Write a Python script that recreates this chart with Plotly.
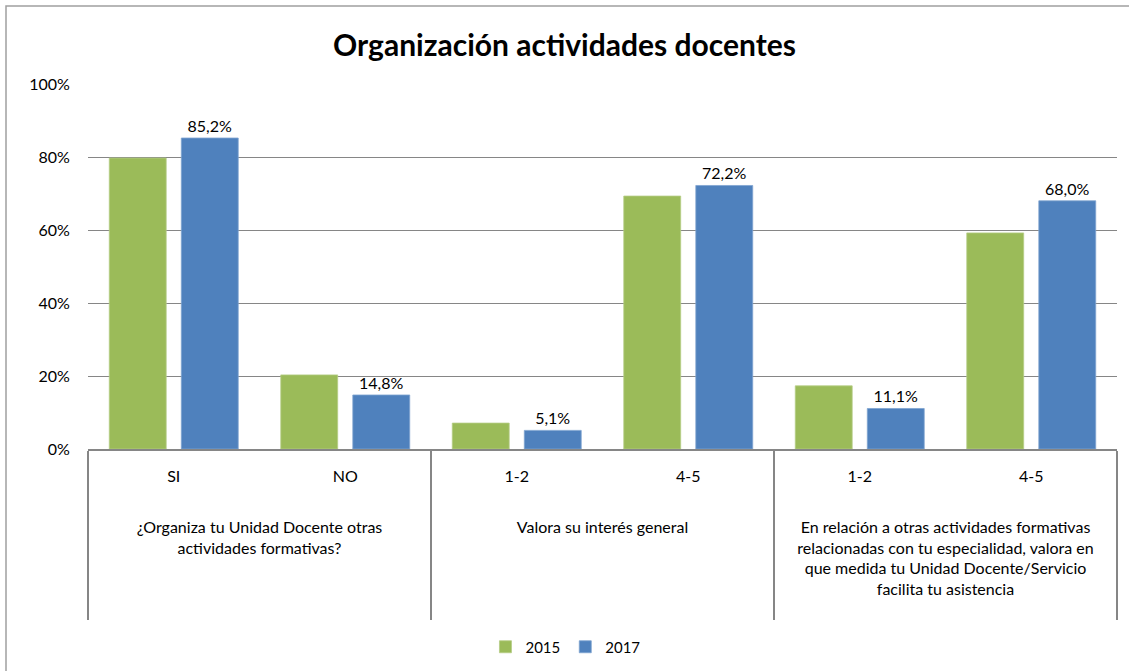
import plotly.graph_objects as go

groups = [
    "¿Organiza tu Unidad Docente otras<br>actividades formativas?",
    "¿Organiza tu Unidad Docente otras<br>actividades formativas?",
    "Valora su interés general",
    "Valora su interés general",
    "En relación a otras actividades formativas<br>relacionadas con tu especialidad, valora en<br>que medida tu Unidad Docente/Servicio<br>facilita tu asistencia",
    "En relación a otras actividades formativas<br>relacionadas con tu especialidad, valora en<br>que medida tu Unidad Docente/Servicio<br>facilita tu asistencia",
]
answers = ["SI", "NO", "1-2", "4-5", "1-2", "4-5"]
values_2015 = [0.797, 0.203, 0.071, 0.693, 0.173, 0.592]
values_2017 = [0.852, 0.148, 0.051, 0.722, 0.111, 0.680]

FONT = "Lato"
GREEN = "#9BBB59"
BLUE = "#4F81BD"
GRID = "#868686"

# blank lines open the gap between the answer labels and the question labels,
# and lengthen the group dividers
answer_labels = [a + "<br>&nbsp;<br>&nbsp;" for a in answers]
group_labels = [g + "<br>&nbsp;" for g in groups]

fig = go.Figure()
fig.add_trace(go.Bar(
    name="2015", x=[group_labels, answer_labels], y=values_2015,
    marker=dict(color=GREEN, line=dict(color="#B5CD85", width=0.8)),
))
fig.add_trace(go.Bar(
    name="2017", x=[group_labels, answer_labels], y=values_2017,
    marker=dict(color=BLUE, line=dict(color="#7FA3D1", width=0.8)),
    texttemplate="%{y:.1%}", textposition="outside", cliponaxis=False,
    textfont=dict(family=FONT, size=16, color="#000000"),
))

W, H = 1129, 671
L, R, T, B = 88, 1117, 84, 449


def px2x(px):
    return (px - L) / (R - L)


def py2y(py):
    return (B - py) / (B - T)


fig.update_layout(
    width=W, height=H,
    margin=dict(l=L, r=W - R, t=T, b=H - B),
    paper_bgcolor="white", plot_bgcolor="white",
    separators=",.",
    barmode="group", bargap=0.16, bargroupgap=0.21,
    font=dict(family=FONT, size=16, color="#000000"),
    title=dict(
        text="<b>Organización actividades docentes</b>",
        x=0.5, xref="container", xanchor="center",
        y=1 - 45 / H, yref="container", yanchor="middle",
        font=dict(family=FONT, size=30, color="#000000"),
    ),
    showlegend=True,
    legend=dict(
        orientation="h", x=0.464, xanchor="center",
        yref="container", y=1 - 647 / H, yanchor="middle",
        font=dict(family=FONT, size=15), itemwidth=30,
        traceorder="normal",
    ),
    xaxis=dict(
        type="multicategory", automargin=False,
        showline=True, linecolor=GRID, linewidth=2,
        showdividers=True, dividercolor=GRID, dividerwidth=1.5,
        ticks="", ticklabelstandoff=12,
        tickfont=dict(family=FONT, size=16, color="#000000"),
        showgrid=False,
    ),
    yaxis=dict(
        range=[0, 1], dtick=0.2, tickformat=".0%", automargin=False,
        showgrid=True, gridcolor=GRID, gridwidth=1,
        zeroline=False, showline=False,
        ticks="outside", ticklen=14, tickcolor="rgba(0,0,0,0)",
        tickfont=dict(family=FONT, size=16, color="#000000"),
    ),
    shapes=[
        dict(type="rect", xref="paper", yref="paper",
             x0=px2x(6), x1=px2x(1140), y0=py2y(690), y1=py2y(6),
             line=dict(color="#A0A0A0", width=1.5), fillcolor="rgba(0,0,0,0)",
             layer="below"),
    ],
)

fig.write_html(
    "out.html",
    config={"displayModeBar": False},
    post_script="document.body.style.margin='0';document.body.style.overflow='hidden';",
)
